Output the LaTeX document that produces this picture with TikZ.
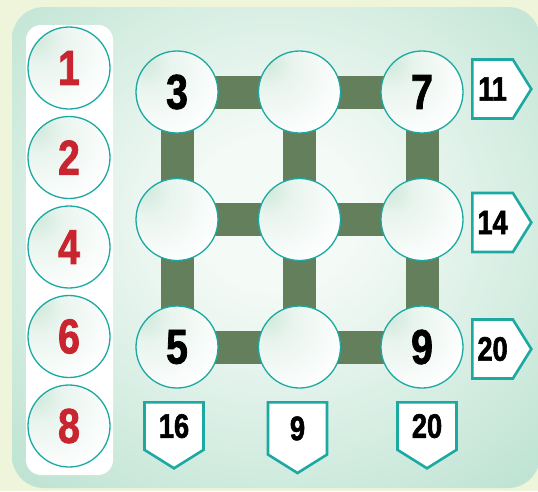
\documentclass[tikz,border=0pt]{standalone}
\usepackage{xcolor}
\usepackage{fontspec}
\usepackage{tikz}
\usetikzlibrary{positioning,shapes.symbols,backgrounds}
\newfontfamily\numfont[FakeStretch=0.8,FakeBold=1.6]{Liberation Sans}
\definecolor{paleback}{RGB}{239,245,218}
\definecolor{panelout}{RGB}{138,204,178}
\definecolor{panelmid}{RGB}{192,228,212}
\definecolor{panelin}{RGB}{244,250,246}
\definecolor{rimteal}{RGB}{27,169,161}
\definecolor{bargreen}{RGB}{99,127,91}
\definecolor{pickred}{RGB}{201,37,48}
\definecolor{ballspot}{RGB}{205,231,217}
\pgfdeclareradialshading{panelglow}{\pgfpoint{0bp}{4bp}}{color(0bp)=(panelin); color(8bp)=(panelin); color(35bp)=(panelmid); color(62bp)=(panelout); color(80bp)=(panelout)}
\pgfdeclareradialshading{ballglow}{\pgfpoint{-22bp}{20bp}}{color(0bp)=(ballspot); color(14bp)=(white!55!ballspot); color(40bp)=(white); color(80bp)=(white)}
\tikzset{
  ball/.style={circle, draw=rimteal, line width=1.3pt, shade, shading=ballglow,
    minimum size=82pt, inner sep=0pt, outer sep=0pt,
    font=\numfont\bfseries\fontsize{49}{49}\selectfont},
  pick/.style={ball, text=pickred},
  sumright/.style={signal, signal to=east, signal pointer angle=116, draw=rimteal,
    line width=2.6pt, fill=white, minimum width=59pt, minimum height=59pt, inner sep=0pt,
    font=\numfont\bfseries\fontsize{34}{34}\selectfont},
  sumdown/.style={sumright, signal to=south, minimum height=57pt},
  bar/.style={line width=33pt, draw=bargreen}
}
\begin{document}
\begin{tikzpicture}[x=1pt, y=-1pt, node distance=45.5pt and 40.5pt]
\useasboundingbox (0,0) rectangle (538,491);
\node[ball] (g11) at (177,92) {3};
\node[ball, right=of g11] (g12) {};
\node[ball, right=of g12] (g13) {7};
\node[ball, below=of g11] (g21) {};
\node[ball, right=of g21] (g22) {};
\node[ball, right=of g22] (g23) {};
\node[ball, below=of g21] (g31) {5};
\node[ball, right=of g31] (g32) {};
\node[ball, right=of g32] (g33) {9};

\node[pick] (p1) at (69,68) {1};
\node[pick, below=7.5pt of p1] (p2) {2};
\node[pick, below=7.5pt of p2] (p4) {4};
\node[pick, below=7.5pt of p4] (p6) {6};
\node[pick, below=7.5pt of p6] (p8) {8};

\node[sumright, right=8pt of g13, yshift=3pt] (r1) {11};
\node[sumright, right=8pt of g23, yshift=-3pt] (r2) {14};
\node[sumright, right=8pt of g33, yshift=-2pt] (r3) {20};
\node[sumdown, below=13pt of g31, xshift=-3pt] (c1) {16};
\node[sumdown, below=13pt of g32, xshift=-2pt] (c2) {9};
\node[sumdown, below=13pt of g33, xshift=5pt] (c3) {20};

\begin{scope}[on background layer]
\fill[paleback] (0,0) rectangle (538,491);
\shade[shading=panelglow, rounded corners=32pt] (12,7) rectangle (540,488);
\fill[white, rounded corners=15pt] (26,25) rectangle (113,475);
\draw[bar] (g11.center) -- (g12.center) -- (g13.center);
\draw[bar] (g21.center) -- (g22.center) -- (g23.center);
\draw[bar] (g31.center) -- (g32.center) -- (g33.center);
\draw[bar] (g11.center) -- (g21.center) -- (g31.center);
\draw[bar] (g12.center) -- (g22.center) -- (g32.center);
\draw[bar] (g13.center) -- (g23.center) -- (g33.center);
\end{scope}
\end{tikzpicture}
\end{document}
